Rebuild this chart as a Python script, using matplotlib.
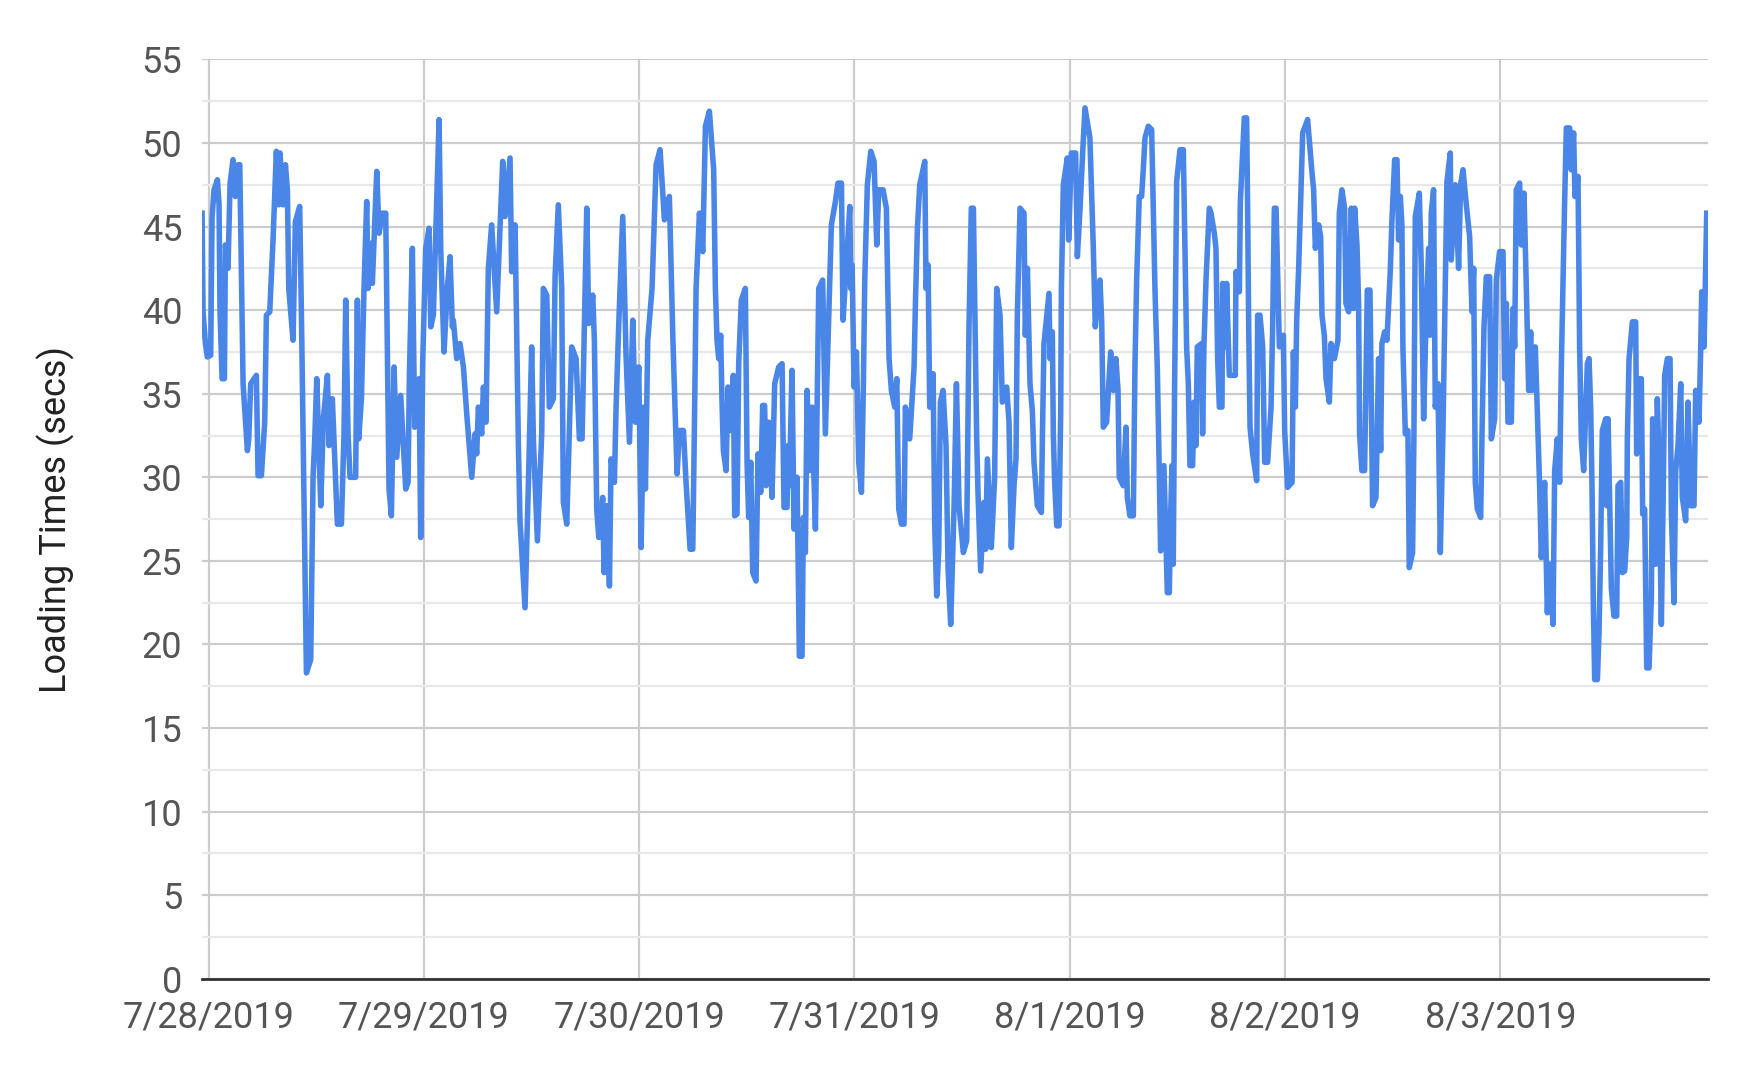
import matplotlib
matplotlib.use("Agg")
import matplotlib.pyplot as plt
import matplotlib.dates as mdates
from matplotlib.ticker import MultipleLocator, FuncFormatter
from datetime import datetime, timedelta

# hours since 2019-07-28 00:00
hours = [
 -0.72,-0.61,-0.35,-0.13,0.24,0.39,0.61,0.99,1.17,1.28,1.51,1.77,1.88,2.17,2.40,2.73,2.99,3.29,3.48,3.85,
 4.33,4.48,4.70,5.33,5.52,5.89,6.26,6.45,6.82,7.19,7.56,7.82,7.97,8.31,8.57,8.79,8.94,9.42,9.68,10.16,
 10.35,10.91,11.39,11.65,11.84,12.06,12.51,12.80,13.25,
 13.43,13.80,14.36,14.81,15.10,15.29,15.55,15.77,16.40,16.59,16.74,17.04,17.33,17.63,17.78,18.08,18.26,18.75,
 19.01,19.38,19.75,20.12,20.38,20.68,20.98,21.42,21.98,22.24,22.39,22.72,22.98,23.47,23.65,23.87,24.21,24.58,
 24.77,25.06,25.70,25.88,26.25,26.62,26.92,27.18,
 27.29,27.66,28.03,28.41,28.78,29.34,29.71,29.89,30.08,30.45,30.64,30.93,31.19,31.56,32.12,32.49,32.79,33.05,
 33.61,33.79,34.17,34.54,34.72,35.28,35.65,36.02,36.21,36.66,37.14,37.32,37.70,37.99,38.44,38.63,38.99,39.37,
 39.55,39.93,40.22,40.48,40.97,41.34,
 41.64,42.16,42.38,42.83,43.01,43.27,43.50,43.94,44.09,44.39,44.69,44.87,45.24,45.43,45.73,46.17,46.54,46.92,
 47.29,47.58,47.96,48.22,48.51,48.70,48.96,49.44,49.89,50.33,50.82,51.37,51.75,52.23,52.49,52.94,53.23,53.68,
 53.98,54.16,54.35,54.72,55.09,55.39,
 55.83,56.31,56.50,56.68,56.87,57.09,57.24,57.39,57.69,57.91,58.17,58.50,58.65,58.91,59.10,59.39,59.84,60.03,
 60.21,60.44,60.66,61.03,61.25,61.55,61.77,61.99,62.14,62.44,62.81,63.11,63.56,63.93,64.15,64.49,64.60,64.75,
 65.04,65.27,65.60,65.86,66.16,66.31,66.53,66.72,66.98,67.27,67.65,68.02,68.46,68.76,69.43,
 69.88,70.17,70.55,70.73,71.10,71.48,71.59,71.74,71.96,72.22,72.48,72.78,73.00,73.15,73.44,73.82,74.19,74.49,
 74.71,75.19,75.56,75.86,76.12,76.49,76.72,76.94,77.24,77.53,77.68,78.16,78.65,78.80,79.02,79.28,79.84,79.98,
 80.21,80.39,80.77,80.95,81.17,81.40,81.58,81.88,82.21,82.44,82.73,83.11,83.37,
 83.66,84.14,84.51,84.77,85.03,85.26,85.52,85.63,85.78,86.07,86.44,86.63,86.82,87.26,87.63,87.86,88.23,88.49,
 88.97,89.23,89.49,89.79,90.01,90.16,90.46,90.90,91.05,91.28,91.57,91.83,92.02,92.39,92.84,92.95,93.13,93.69,
 93.80,94.06,94.17,94.32,94.55,94.81,94.99,95.07,95.29,95.73,95.88,96.18,96.66,96.85,97.15,
 97.44,97.70,98.25,98.63,98.85,99.18,99.37,99.56,99.74,100.11,100.56,100.86,101.15,101.38,101.52,101.97,102.27,
 102.42,102.71,103.09,103.27,103.46,103.75,104.01,104.20,104.39,104.76,105.13,105.50,105.76,105.98,106.13,106.50,
 106.88,107.10,107.25,107.40,107.54,107.69,107.92,108.29,108.66,109.03,109.22,109.40,109.70,109.85,110.07,110.22,
 110.70,110.81,110.96,111.19,111.56,
 111.75,112.12,112.30,112.49,112.68,112.97,113.05,113.35,113.49,113.79,114.46,114.53,114.91,115.02,115.46,115.72,
 115.83,115.95,116.10,116.39,116.84,116.95,117.21,117.51,117.73,118.06,118.44,118.62,118.81,119.00,119.37,119.81,
 119.96,120.29,120.78,120.93,121.15,121.30,121.52,121.97,122.52,123.01,123.19,123.38,123.75,123.97,124.12,124.38,
 124.57,124.94,125.12,125.50,
 125.90,126.05,126.34,126.64,126.79,127.09,127.39,127.65,127.76,128.02,128.20,128.31,128.57,128.87,129.02,129.17,
 129.47,129.61,129.76,130.14,130.43,130.66,130.80,131.10,131.36,131.73,131.92,132.22,132.48,132.66,132.85,133.03,
 133.14,133.41,133.70,133.85,134.22,134.37,134.52,134.97,135.19,135.45,135.71,136.01,136.16,136.30,136.56,136.75,
 137.05,137.31,137.60,138.05,138.42,138.53,138.98,139.35,139.57,
 139.84,140.21,140.58,140.84,141.03,141.21,141.44,141.81,141.96,142.18,142.44,142.81,143.00,143.37,143.55,143.92,
 144.30,144.48,144.67,144.85,145.23,145.41,145.60,145.78,146.15,146.34,146.64,146.90,147.16,147.38,147.53,147.90,
 148.38,148.57,148.94,149.24,149.50,149.87,150.06,150.35,150.61,150.80,151.17,151.36,151.73,151.91,152.17,152.32,
 152.66,152.84,153.03,153.29,153.70,
 153.89,154.07,154.22,154.37,154.52,154.82,155.00,155.19,155.37,155.75,155.86,156.01,156.23,156.38,156.67,156.97,
 157.12,157.42,157.60,157.86,158.09,158.16,158.35,158.72,159.09,159.20,159.46,159.72,159.87,160.09,160.32,160.58,
 160.84,160.98,161.32,161.50,161.69,161.95,162.17,162.32,162.62,162.92,163.07,163.36,163.55,163.81,164.11,164.29,
 164.66,164.92,165.22,165.59,165.78,166.15,166.34,166.45,166.71,167.01,
]

load_secs = [
 45.8,39.9,38.0,37.2,37.3,45.5,47.2,47.8,46.3,39.9,35.9,35.9,43.9,42.5,47.6,49.0,46.8,48.7,48.7,35.6,
 31.6,32.3,35.6,36.1,30.1,30.1,33.3,39.7,39.9,44.2,49.5,46.3,49.4,46.3,48.7,47.2,41.3,38.2,45.3,46.2,
 39.9,18.3,19.1,30.0,32.3,35.9,28.3,33.5,36.1,
 31.9,34.7,27.2,27.2,32.6,40.6,32.6,30.0,30.0,40.6,32.3,34.7,41.3,46.5,41.3,44.0,41.6,48.3,
 44.6,45.8,45.8,29.3,27.7,36.6,31.2,34.9,29.3,29.7,36.1,43.7,33.0,35.9,26.4,36.8,43.7,44.9,
 39.0,39.7,51.4,43.7,37.5,41.3,43.2,39.0,
 39.4,37.1,38.0,36.6,33.8,30.0,32.6,31.4,34.2,32.6,35.4,33.3,42.5,45.1,39.9,44.9,48.9,45.6,
 49.1,42.3,45.1,31.9,27.4,22.2,29.5,37.8,32.3,26.2,32.6,41.3,40.9,34.2,34.7,42.0,46.3,41.3,
 28.5,27.2,32.8,37.8,37.1,32.3,
 32.3,46.1,39.2,40.9,38.2,28.1,26.4,28.8,24.3,28.3,23.5,31.1,29.7,34.2,39.2,45.6,37.3,32.1,
 39.4,33.3,36.6,25.8,34.2,29.3,38.2,41.3,48.7,49.6,45.4,46.8,38.5,30.2,32.8,32.8,29.7,25.7,
 25.7,33.0,41.3,45.8,43.5,51.0,
 51.9,48.4,41.3,38.2,37.1,38.5,34.5,31.6,30.4,35.4,32.8,36.1,27.7,27.8,36.8,40.6,41.3,30.9,
 27.6,30.9,24.3,23.8,31.4,29.1,34.3,34.3,29.5,33.3,28.8,35.6,36.6,36.8,28.2,28.2,31.9,29.5,
 36.4,26.9,30.0,19.3,19.3,27.6,25.5,35.2,30.4,34.2,26.9,41.3,41.8,32.6,45.1,
 46.5,47.6,47.6,39.4,42.7,46.2,41.3,42.7,35.4,37.5,30.9,29.1,35.6,41.8,47.5,49.5,48.9,43.9,
 47.2,47.2,46.1,37.1,35.2,34.2,35.9,28.1,27.2,27.2,34.2,32.3,36.6,40.4,44.9,47.5,48.9,41.3,
 42.7,34.2,36.2,27.1,22.9,25.7,34.5,35.2,31.9,24.5,21.2,28.3,35.6,
 28.3,25.5,26.2,39.0,46.1,46.1,36.6,32.3,29.0,24.4,28.5,25.7,31.1,25.8,30.0,41.3,39.7,34.5,
 35.4,33.3,25.8,29.5,31.1,39.7,46.1,45.8,38.5,42.5,35.6,34.0,30.9,28.3,27.9,32.3,38.0,41.0,
 37.1,38.7,32.6,29.7,27.1,27.1,33.8,41.3,47.5,49.1,44.2,49.4,49.4,43.2,46.1,
 49.4,52.1,50.3,43.7,39.0,41.1,41.8,39.4,33.0,33.3,37.5,35.2,37.1,35.2,30.0,29.5,33.0,
 28.8,27.7,27.7,36.6,41.8,46.8,46.8,48.4,50.3,51.0,50.8,41.3,36.6,30.4,25.6,30.7,
 23.1,23.1,27.8,30.7,24.8,35.4,47.7,49.6,49.6,37.8,35.6,30.7,30.7,34.5,31.9,37.8,
 38.0,32.6,37.8,41.8,46.1,
 45.8,44.6,43.7,37.1,34.2,34.2,41.6,37.8,41.6,36.1,36.1,42.3,41.1,46.5,51.5,51.5,
 46.1,39.0,33.0,31.4,29.8,39.7,39.7,37.8,30.9,30.9,34.2,39.0,46.1,46.1,37.8,38.5,
 32.8,29.4,29.7,37.5,34.2,39.4,42.5,50.6,51.4,48.2,47.2,43.7,45.1,44.4,39.7,38.5,
 35.9,34.5,38.0,37.1,
 38.2,45.8,47.2,46.1,40.4,39.9,46.1,40.1,46.1,43.9,40.4,32.6,30.4,30.4,35.6,41.2,
 41.2,34.7,28.3,28.8,37.1,31.6,38.0,38.7,38.2,42.3,45.4,49.0,49.0,44.2,46.8,45.1,
 37.8,32.6,32.8,24.6,25.5,32.6,45.6,47.0,42.5,33.5,39.2,43.7,38.5,45.8,47.2,34.2,
 35.6,25.5,32.6,47.7,49.4,43.0,47.5,42.5,47.5,
 48.4,46.3,44.4,39.9,42.5,29.7,28.1,27.6,32.6,39.0,42.0,42.0,32.3,33.5,41.8,43.5,
 43.5,35.9,40.4,33.3,33.3,40.1,37.8,47.2,47.6,43.9,47.0,41.3,35.2,38.7,35.2,37.8,
 29.5,25.2,29.7,21.9,24.8,21.2,30.4,32.3,29.7,36.6,46.5,50.9,50.9,48.4,50.6,46.8,
 48.0,37.8,32.3,30.4,36.8,
 37.1,34.2,29.5,22.4,17.9,17.9,20.7,25.9,32.8,33.5,28.3,33.5,27.6,23.3,21.7,21.7,
 29.5,29.7,24.3,24.4,26.4,32.3,37.1,39.3,39.3,31.4,35.9,35.9,27.8,28.1,18.6,18.6,
 22.9,33.5,24.8,34.7,30.9,21.2,29.5,36.1,37.1,37.1,27.8,22.5,30.4,31.9,35.6,28.8,
 27.4,34.5,28.3,28.3,35.2,33.3,37.8,41.1,37.8,45.8,
]

start_day = datetime(2019, 7, 28)
day_ticks = [start_day + timedelta(days=d) for d in range(7)]
y_ticks = [0, 5, 10, 15, 20, 25, 30, 35, 40, 45, 50, 55]
y_label = "Loading Times (secs)"

plt.rcParams['font.family'] = ['Roboto', 'DejaVu Sans']

fig = plt.figure(figsize=(17.58, 10.72), dpi=100)
ax = fig.add_axes([0.1148, 0.0869, 0.9713 - 0.1148, 0.9446 - 0.0869])

times = [start_day + timedelta(hours=h) for h in hours]
ax.plot(times, load_secs, color='#4a86e8', lw=4.0, solid_joinstyle='round', zorder=3)

ax.set_xlim(start_day - timedelta(hours=0.75), start_day + timedelta(hours=167.1))
ax.set_ylim(0, 55)

ax.set_yticks(y_ticks)
ax.yaxis.set_minor_locator(MultipleLocator(2.5))
ax.set_xticks(day_ticks)
ax.xaxis.set_major_formatter(FuncFormatter(
    lambda x, pos: "{}/{}/{}".format(mdates.num2date(x).month, mdates.num2date(x).day, mdates.num2date(x).year)))

ax.grid(True, which='major', axis='both', color='#cccccc', lw=1.6, zorder=0)
ax.grid(True, which='minor', axis='y', color='#e8e8e8', lw=1.6, zorder=0)

for s in ['top', 'right', 'left']:
    ax.spines[s].set_visible(False)
ax.spines['bottom'].set_color('#333333')
ax.spines['bottom'].set_linewidth(2.0)
ax.spines['bottom'].set_zorder(4)

ax.tick_params(axis='both', which='both', length=0, labelsize=26, labelcolor='#555555')
ax.tick_params(axis='y', pad=14)
ax.tick_params(axis='x', pad=15)

ax.set_ylabel(y_label, fontsize=26, color='#222222', labelpad=48)

fig.savefig("out.png", dpi=100, facecolor='white')
